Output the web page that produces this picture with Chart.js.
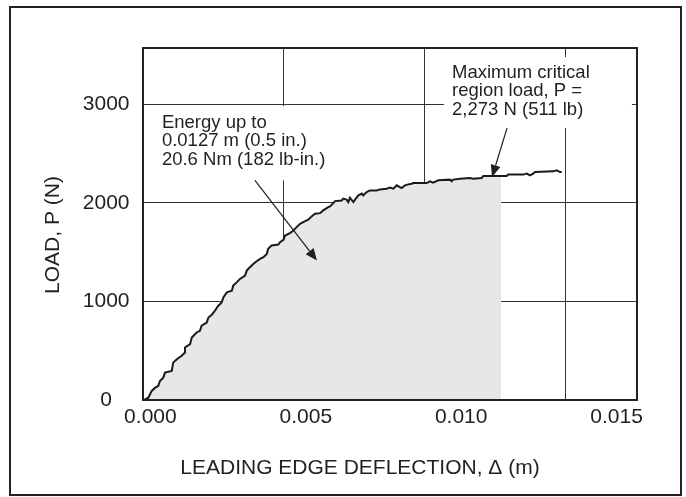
<!DOCTYPE html>
<html lang="en">
<head>
<meta charset="UTF-8">
<title>Load vs leading edge deflection</title>
<style>
    body { margin: 0; background: #fff; }
    .sheet { position: relative; width: 686px; height: 497px; }
    /* outer box round the whole figure */
    .frame {
        position: absolute; left: 9px; top: 6px;
        width: 673px; height: 490px;
        border: 2px solid #222; box-sizing: border-box;
    }
    canvas { position: absolute; left: 0; top: 0; }
</style>
</head>
<body>
<div class="sheet">
    <div class="frame"></div>
    <canvas id="loadChart" width="686" height="497"></canvas>
</div>

<script src="https://cdn.jsdelivr.net/npm/chart.js"></script>
<script>
    // deflection in mm, load in N
    const deflectionMm = [0.04, 0.19, 0.31, 0.43, 0.54, 0.60, 0.72, 0.78, 1.02, 1.07,
        1.20, 1.37, 1.49, 1.49, 1.67, 1.73, 1.90, 2.02, 2.08, 2.26,
        2.32, 2.44, 2.55, 2.67, 2.79, 2.85, 2.97, 3.15, 3.20, 3.32,
        3.44, 3.62, 3.68, 3.79, 3.91, 4.03, 4.15, 4.27, 4.39, 4.44,
        4.56, 4.80, 4.86, 4.98, 5.04, 5.21, 5.33, 5.45, 5.57, 5.75,
        5.86, 5.98, 6.10, 6.28, 6.39, 6.57, 6.63, 6.75, 6.81, 7.05,
        7.10, 7.22, 7.28, 7.34, 7.46, 7.52, 7.64, 7.76, 7.81, 7.93,
        8.05, 8.29, 8.40, 8.64, 8.76, 8.88, 9.00, 9.11, 9.17, 9.29,
        9.41, 9.53, 9.59, 9.82, 10.06, 10.18, 10.29, 10.47, 10.89, 10.95,
        11.00, 11.24, 11.60, 11.71, 12.01, 12.07, 12.37, 12.70, 12.90, 12.95,
        13.49, 13.61, 13.72, 13.84, 13.90, 14.55, 14.67, 14.79, 14.85];
    const loadN = [0, 23, 92, 125, 142, 193, 227, 278, 295, 379,
        414, 448, 481, 532, 567, 634, 685, 702, 753, 786,
        837, 865, 905, 956, 990, 1041, 1092, 1109, 1160, 1193,
        1228, 1261, 1312, 1346, 1380, 1407, 1431, 1448, 1482, 1533,
        1567, 1577, 1600, 1625, 1668, 1692, 1719, 1753, 1787, 1814,
        1828, 1862, 1889, 1895, 1923, 1956, 1963, 1997, 2017, 2024,
        2042, 2032, 2007, 2052, 2007, 2032, 2075, 2093, 2075, 2109,
        2126, 2126, 2136, 2143, 2154, 2143, 2177, 2160, 2150, 2177,
        2187, 2194, 2200, 2200, 2200, 2218, 2204, 2228, 2235, 2218,
        2235, 2245, 2251, 2245, 2251, 2273, 2273, 2273, 2273, 2286,
        2286, 2296, 2279, 2296, 2312, 2319, 2330, 2312, 2312];
    const energyLimitMm = 12.7;   // shaded area ends at 0.0127 m
    const xTickValues = [0, 0.005, 0.010, 0.015];
    const yTickValues = [0, 1000, 2000, 3000];

    const xTitle = 'LEADING EDGE DEFLECTION, \u0394 (m)';
    const yTitle = 'LOAD, P (N)';
    const energyNote = ['Energy up to', '0.0127 m (0.5 in.)', '20.6 Nm (182 lb-in.)'];
    const maxNote = ['Maximum critical', 'region load, P =', '2,273 N (511 lb)'];

    const ink = '#231f20';
    const fontFamily = '"Liberation Sans", Arial, sans-serif';
    Chart.defaults.font.family = fontFamily;
    Chart.defaults.color = ink;

    const curve = deflectionMm.map((d, i) => ({ x: d / 1000, y: loadN[i] }));
    const energyArea = curve.filter(p => p.x <= energyLimitMm / 1000 + 1e-9);

    // note boxes / arrows, in data units (mm, N)
    const notes = [
        { lines: energyNote, box: [0.32, 2981, 6.81, 2228], at: [0.67, 2757], step: 18.3,
          from: [3.97, 2228], to: [6.17, 1414] },
        { lines: maxNote, box: [10.67, 3479, 17.34, 2757], at: [10.96, 3268], step: 18.7,
          from: [12.91, 2757], to: [12.38, 2262] }
    ];

    function drawArrow(ctx, x1, y1, x2, y2) {
        const ang = Math.atan2(y2 - y1, x2 - x1);
        const len = 12, half = 5;
        const bx = x2 - Math.cos(ang) * len, by = y2 - Math.sin(ang) * len;
        ctx.beginPath();
        ctx.moveTo(x1, y1);
        ctx.lineTo(bx, by);
        ctx.stroke();
        ctx.beginPath();
        ctx.moveTo(x2, y2);
        ctx.lineTo(bx - Math.sin(ang) * half, by + Math.cos(ang) * half);
        ctx.lineTo(bx + Math.sin(ang) * half, by - Math.cos(ang) * half);
        ctx.closePath();
        ctx.fill();
    }

    const notesPlugin = {
        id: 'notes',
        afterDraw(chart) {
            const { ctx, chartArea: a, scales } = chart;
            const px = mm => scales.x.getPixelForValue(mm / 1000);
            const py = n => scales.y.getPixelForValue(n);
            ctx.save();
            // plot frame
            ctx.strokeStyle = '#222';
            ctx.lineWidth = 2;
            ctx.strokeRect(a.left, a.top, a.right - a.left, a.bottom - a.top);

            // axis titles (the original sets them off-centre from the plot)
            ctx.fillStyle = ink;
            ctx.font = '21px ' + fontFamily;
            ctx.textAlign = 'center';
            ctx.textBaseline = 'middle';
            ctx.fillText(xTitle, 360, 468);
            ctx.save();
            ctx.translate(53, 235);
            ctx.rotate(-Math.PI / 2);
            ctx.fillText(yTitle, 0, 0);
            ctx.restore();

            ctx.textAlign = 'left';
            notes.forEach(n => {
                const bx = px(n.box[0]), by = py(n.box[1]);
                ctx.fillStyle = '#fff';
                ctx.fillRect(bx, by, px(n.box[2]) - bx, py(n.box[3]) - by);
                ctx.fillStyle = ink;
                ctx.font = '18.5px ' + fontFamily;
                ctx.textBaseline = 'alphabetic';
                n.lines.forEach((t, i) => ctx.fillText(t, px(n.at[0]), py(n.at[1]) + i * n.step));
                ctx.strokeStyle = ink;
                ctx.lineWidth = 1.2;
                drawArrow(ctx, px(n.from[0]), py(n.from[1]), px(n.to[0]), py(n.to[1]));
            });
            ctx.restore();
        }
    };

    new Chart(document.getElementById('loadChart'), {
        type: 'line',
        data: {
            datasets: [{
                data: curve,
                borderColor: '#1a1a1a',
                borderWidth: 2,
                pointRadius: 0,
                fill: false
            }, {
                data: energyArea,
                borderWidth: 0,
                borderColor: 'rgba(0,0,0,0)',
                backgroundColor: '#e6e7e8',
                pointRadius: 0,
                fill: 'origin'
            }]
        },
        options: {
            responsive: false,
            animation: false,
            layout: { padding: { left: 0, top: 48, right: 49, bottom: 0 } },
            plugins: { legend: { display: false }, tooltip: { enabled: false } },
            scales: {
                x: {
                    type: 'linear', position: 'bottom', min: 0, max: 0.01752, z: 1,
                    ticks: { display: false, stepSize: 0.005, includeBounds: false },
                    grid: { color: '#333', drawTicks: false },
                    border: { display: false },
                    afterFit: s => { s.height = 0; }
                },
                // tick labels sit a little off the grid in the original, so they get their own axis
                xl: {
                    type: 'linear', position: 'bottom', min: -0.000238, max: 0.015656,
                    grid: { display: false, drawTicks: false },
                    border: { display: false },
                    afterBuildTicks: s => { s.ticks = xTickValues.map(v => ({ value: v })); },
                    ticks: { padding: 5, font: { size: 21 }, color: ink, callback: v => v.toFixed(3) },
                    afterFit: s => { s.height = 97; }
                },
                y: {
                    min: 0, max: 3570, z: 1,
                    afterBuildTicks: s => { s.ticks = yTickValues.map(v => ({ value: v })); },
                    ticks: { padding: 13.5, crossAlign: 'center', font: { size: 21 }, color: ink, callback: v => String(v) },
                    grid: { color: '#333', drawTicks: false },
                    border: { display: false },
                    afterFit: s => { s.width = 143; }
                }
            }
        },
        plugins: [notesPlugin]
    });
</script>
</body>
</html>
